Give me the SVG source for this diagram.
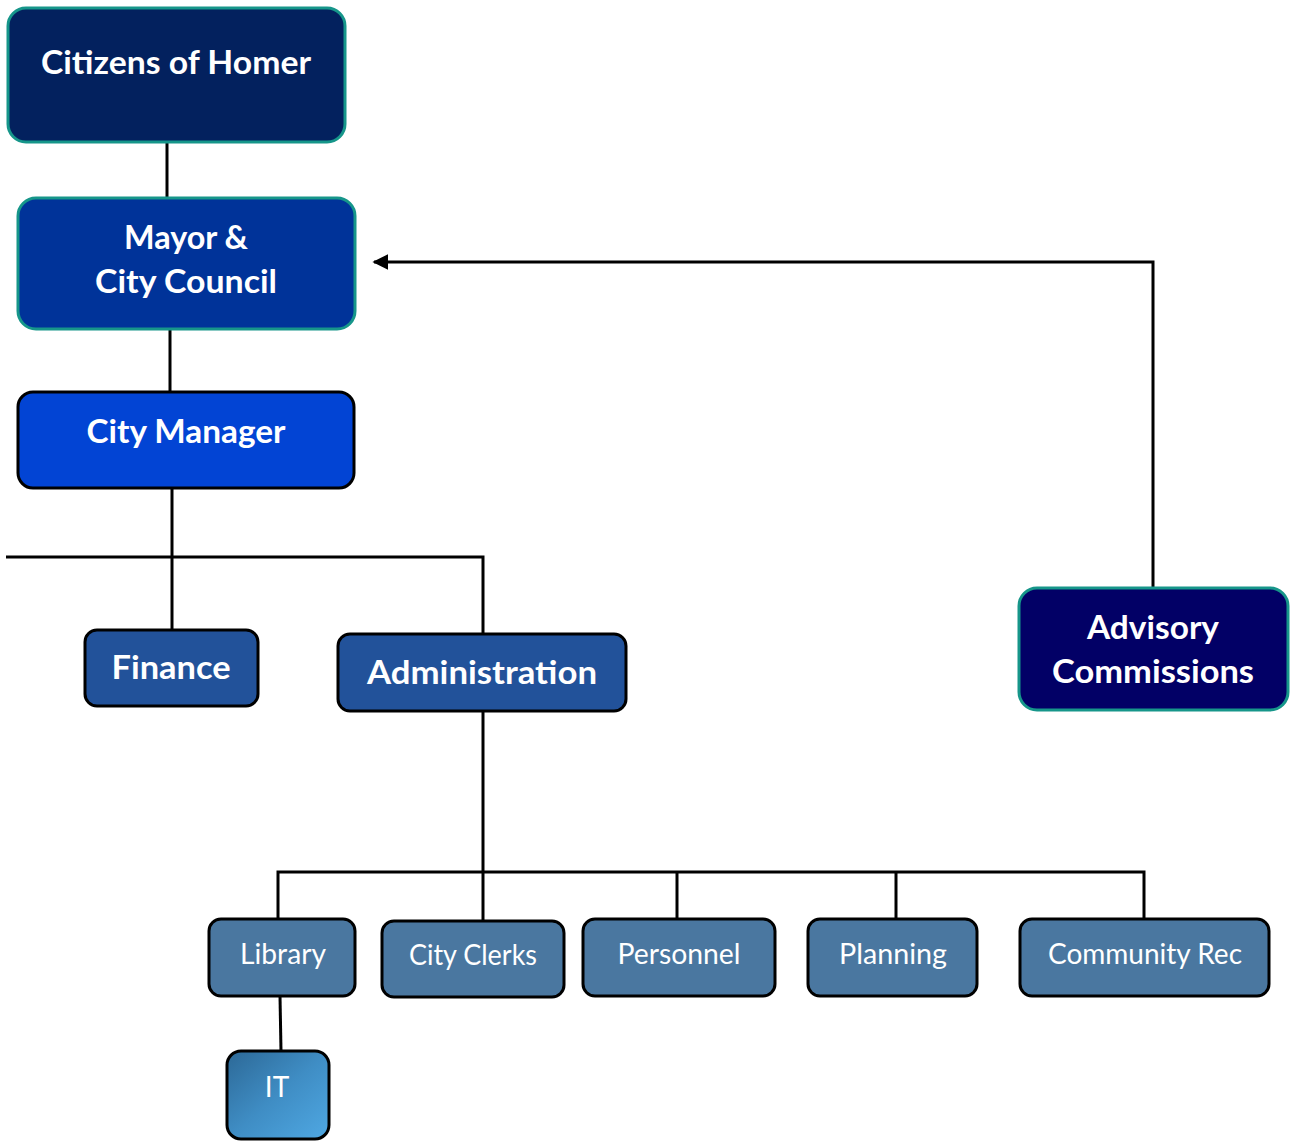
<svg xmlns="http://www.w3.org/2000/svg" width="1290" height="1142" viewBox="0 0 1290 1142">
<style>
.bt{font-family:Lato,"Liberation Sans",sans-serif;font-weight:bold;fill:#fff;text-anchor:middle;font-size:33px}
.rt{font-family:Lato,"Liberation Sans",sans-serif;fill:#fff;text-anchor:middle;font-size:28px}
.teal{stroke:#16968A;stroke-width:3}
.blk{stroke:#000;stroke-width:3}
.sub{fill:#4A77A0}
.con{fill:none;stroke:#000;stroke-width:3}
</style>
<defs>
<linearGradient id="itg" x1="0" y1="0" x2="1" y2="1">
<stop offset="0" stop-color="#2C6896"/>
<stop offset="0.5" stop-color="#3F8DC4"/>
<stop offset="1" stop-color="#4FA8E3"/>
</linearGradient>
<marker id="arr" viewBox="0 0 10 10" refX="9" refY="5" markerWidth="16" markerHeight="16" markerUnits="userSpaceOnUse" orient="auto">
<path d="M0,0 L10,5 L0,10 z" fill="#000"/>
</marker>
</defs>
<rect width="1290" height="1142" fill="#fff"/>
<g id="connectors">
<line class="con" x1="167" y1="142" x2="167" y2="198"/>
<line class="con" x1="170" y1="329" x2="170" y2="392"/>
<line class="con" x1="172" y1="488" x2="172" y2="630"/>
<polyline class="con" points="6,557 483,557 483,634"/>
<line class="con" x1="483" y1="711" x2="483" y2="921"/>
<polyline class="con" points="278,919 278,872 1144,872 1144,919"/>
<line class="con" x1="677" y1="872" x2="677" y2="919"/>
<line class="con" x1="896" y1="872" x2="896" y2="919"/>
<line class="con" x1="280" y1="996" x2="281" y2="1051"/>
<polyline class="con" points="1153,588 1153,262 374,262" marker-end="url(#arr)"/>
</g>
<g id="citizens">
<rect class="teal" x="8" y="8" width="337" height="134" rx="18" fill="#03215E"/>
<text class="bt" x="176" y="74" textLength="270" lengthAdjust="spacingAndGlyphs">Citizens of Homer</text>
</g>
<g id="mayor">
<rect class="teal" x="18" y="198" width="337" height="131" rx="18" fill="#003399"/>
<text class="bt" x="186" y="249" textLength="124" lengthAdjust="spacingAndGlyphs">Mayor &amp;</text>
<text class="bt" x="186" y="293" textLength="182" lengthAdjust="spacingAndGlyphs">City Council</text>
</g>
<g id="manager">
<rect class="blk" x="18" y="392" width="336" height="96" rx="15" fill="#0244D4"/>
<text class="bt" x="186" y="443" textLength="199" lengthAdjust="spacingAndGlyphs">City Manager</text>
</g>
<g id="finance">
<rect class="blk" x="85" y="630" width="173" height="76" rx="12" fill="#22529A"/>
<text class="bt" x="171" y="679" textLength="119" lengthAdjust="spacingAndGlyphs">Finance</text>
</g>
<g id="administration">
<rect class="blk" x="338" y="634" width="288" height="77" rx="12" fill="#22529A"/>
<text class="bt" x="482" y="684" textLength="230" lengthAdjust="spacingAndGlyphs">Administration</text>
</g>
<g id="advisory">
<rect class="teal" x="1019" y="588" width="269" height="122" rx="18" fill="#020066"/>
<text class="bt" x="1153" y="639" textLength="132" lengthAdjust="spacingAndGlyphs">Advisory</text>
<text class="bt" x="1153" y="683" textLength="202" lengthAdjust="spacingAndGlyphs">Commissions</text>
</g>
<g id="library">
<rect class="blk sub" x="209" y="919" width="146" height="77" rx="12"/>
<text class="rt" x="283" y="964" textLength="86" lengthAdjust="spacingAndGlyphs">Library</text>
</g>
<g id="clerks">
<rect class="blk sub" x="382" y="921" width="182" height="76" rx="12"/>
<text class="rt" x="473" y="965" textLength="128" lengthAdjust="spacingAndGlyphs">City Clerks</text>
</g>
<g id="personnel">
<rect class="blk sub" x="583" y="919" width="192" height="77" rx="12"/>
<text class="rt" x="679" y="964" textLength="123" lengthAdjust="spacingAndGlyphs">Personnel</text>
</g>
<g id="planning">
<rect class="blk sub" x="808" y="919" width="169" height="77" rx="12"/>
<text class="rt" x="893" y="964" textLength="108" lengthAdjust="spacingAndGlyphs">Planning</text>
</g>
<g id="community">
<rect class="blk sub" x="1020" y="919" width="249" height="77" rx="12"/>
<text class="rt" x="1145" y="964" textLength="194" lengthAdjust="spacingAndGlyphs">Community Rec</text>
</g>
<g id="it">
<rect class="blk" x="227" y="1051" width="102" height="88" rx="14" fill="url(#itg)"/>
<text class="rt" x="277" y="1097">IT</text>
</g>
</svg>
